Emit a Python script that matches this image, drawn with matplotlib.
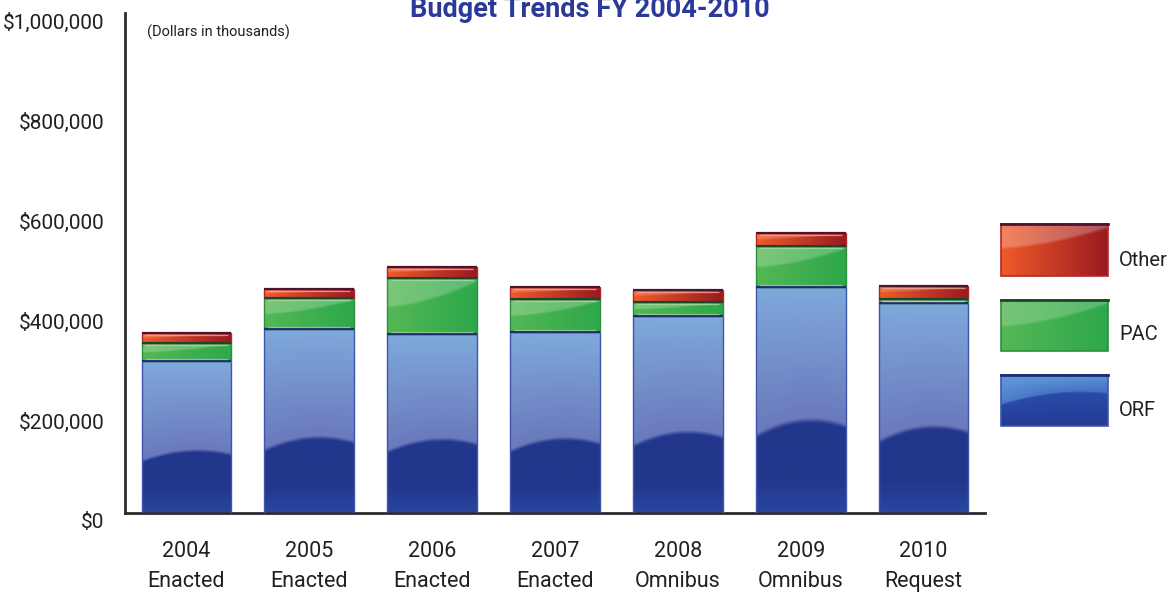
import numpy as np
import matplotlib
matplotlib.use("Agg")
import matplotlib.pyplot as plt
from matplotlib.patches import Rectangle
from matplotlib.colors import to_rgb

# ---------------- data (dollars in thousands) ----------------
years = ["2004", "2005", "2006", "2007", "2008", "2009", "2010"]
stages = ["Enacted", "Enacted", "Enacted", "Enacted", "Omnibus", "Omnibus", "Request"]
orf = [304000, 368000, 358000, 362000, 394000, 452000, 420000]
pac = [36000, 62000, 112000, 66000, 28000, 82000, 8000]
other = [20000, 18000, 22000, 24000, 24000, 26000, 26000]
series_names = ["Other", "PAC", "ORF"]
yticks = [0, 200000, 400000, 600000, 800000, 1000000]
ytick_labels = ["$0", "$200,000", "$400,000", "$600,000", "$800,000", "$1,000,000"]
title = "Budget Trends FY 2004-2010"
subtitle = "(Dollars in thousands)"

plt.rcParams["font.family"] = ["Roboto", "DejaVu Sans"]

W, H = 1170, 592
fig = plt.figure(figsize=(W / 100, H / 100), dpi=100)
fig.patch.set_facecolor("white")

ax = fig.add_axes([125 / W, 1 - 513 / H, (985 - 125) / W, 500 / H])
x = np.arange(len(years))
bw = 0.73


def lerp(c1, c2, t):
    c1 = np.array(to_rgb(c1)); c2 = np.array(to_rgb(c2))
    t = np.clip(t, 0, 1)[..., None]
    return c1 * (1 - t) + c2 * t


def smoothstep(e0, e1, v):
    t = np.clip((v - e0) / (e1 - e0), 0, 1)
    return t * t * (3 - 2 * t)


def img_orf(nx=120, ny=240, legend=False):
    u = np.linspace(0, 1, nx)[None, :].repeat(ny, 0)
    v = np.linspace(0, 1, ny)[:, None].repeat(nx, 1)
    if legend:
        b = 0.42 + 0.25 * (1 - ((u - 0.75) / 0.75) ** 2)
        upper = lerp("#3F6FC0", "#5E92D6", (v - b) / (1 - b) + 0.3 * (1 - u))
        lower = lerp("#2A4BA8", "#233B95", (b - v) / b)
    else:
        b = 0.34 + 0.07 * (1 - ((u - 0.62) / 0.62) ** 2)
        upper = lerp("#6A79BC", "#7FA9DB", (v - b) / (1 - b))
        lower = lerp("#2A46A0", "#22378C", v / 0.15)
    m = smoothstep(b - 0.015, b + 0.015, v)[..., None]
    return lower * (1 - m) + upper * m


def img_pac(nx=120, ny=120, k=0.22):
    u = np.linspace(0, 1, nx)[None, :].repeat(ny, 0)
    v = np.linspace(0, 1, ny)[:, None].repeat(nx, 1)
    base = lerp("#55B755", "#2DA84B", u)
    g = smoothstep(0.0, 0.08, v - (0.45 + 0.45 * u ** 1.6))
    return base * (1 - k * g[..., None]) + np.ones(3) * k * g[..., None]


def img_other(nx=120, ny=60, k=0.18):
    u = np.linspace(0, 1, nx)[None, :].repeat(ny, 0)
    v = np.linspace(0, 1, ny)[:, None].repeat(nx, 1)
    base = lerp("#F05B2A", "#9A1A20", u)
    g = smoothstep(0.0, 0.08, v - (0.5 + 0.4 * u ** 1.6))
    return base * (1 - k * g[..., None]) + np.ones(3) * k * g[..., None]


def gradient_bars(bottom, height, maker, edge, topedge):
    rects = ax.bar(x, height, bw, bottom=bottom, color="none", edgecolor="none", zorder=1)
    for r in rects:
        x0, y0 = r.get_x(), r.get_y()
        im = ax.imshow(maker(), extent=[x0, x0 + r.get_width(), y0, y0 + r.get_height()],
                       origin="lower", aspect="auto", interpolation="bilinear", zorder=2)
        im.set_clip_path(r)
    ax.bar(x, height, bw, bottom=bottom, fill=False, edgecolor=edge, linewidth=1.0, zorder=3)
    tops = np.array(bottom) + np.array(height)
    ax.hlines(tops, x - bw / 2, x + bw / 2, colors=topedge, linewidth=1.6, zorder=4)
    return rects


b0 = np.zeros(len(x))
gradient_bars(b0, orf, img_orf, "#3E55AE", "#1E2C70")
b1 = b0 + np.array(orf)
gradient_bars(b1, pac, img_pac, "#2E8E3E", "#1C4628")
ax.hlines(b1 + np.array(pac) - 3500, x - bw / 2 + 0.03, x + bw / 2 - 0.03,
          colors="#A8DCA0", linewidth=0.9, alpha=0.8, zorder=4)
ax.hlines(b1 + 3500, x - bw / 2 + 0.03, x + bw / 2 - 0.03,
          colors="#A8DCA0", linewidth=0.9, alpha=0.7, zorder=4)
b2 = b1 + np.array(pac)
gradient_bars(b2, other, img_other, "#B5262C", "#4A1530")
ax.hlines(b2 + np.array(other) - 4500, x - bw / 2 + 0.03, x + bw / 2 - 0.03,
          colors="#F2A890", linewidth=0.9, alpha=0.8, zorder=4)

ax.set_xlim(-0.5, 6.5)
ax.set_ylim(0, 1000000)

for s in ["top", "right"]:
    ax.spines[s].set_visible(False)
for s in ["left", "bottom"]:
    ax.spines[s].set_color("#2b2b2b")
    ax.spines[s].set_linewidth(2.0)

ax.set_yticks(yticks)
ax.set_yticklabels(ytick_labels)
ax.set_xticks(x)
ax.set_xticklabels([f"{y}\n{s}" for y, s in zip(years, stages)], linespacing=1.55)
ax.tick_params(axis="y", length=0, pad=15, labelsize=15, labelcolor="#231f20")
ax.tick_params(axis="x", length=0, pad=20, labelsize=15.5, labelcolor="#231f20")
for t in ax.get_yticklabels():
    t.set_verticalalignment("top")

fig.text(590 / W, 1 - 17 / H, title, ha="center", va="baseline", fontsize=19.5,
         fontweight="bold", color="#2B3A99")
fig.text(147 / W, 1 - 32 / H, subtitle, ha="left", va="center", fontsize=10.5, color="#231f20")

# ---------------- legend ----------------
leg = [("Other", img_other(120, 50, 0.25), "#4A1530", "#B5262C", 224, 276, 260),
       ("PAC", img_pac(120, 50, 0.2), "#1C4628", "#2E8E3E", 300, 351, 335),
       ("ORF", img_orf(120, 50, legend=True), "#1E2C70", "#3E55AE", 375, 426, 410)]
for name, arr, tcol, ecol, ytop, ybot, ylab in leg:
    lax = fig.add_axes([1001 / W, 1 - ybot / H, 107 / W, (ybot - ytop) / H])
    lax.imshow(arr, origin="lower", aspect="auto", extent=[0, 1, 0, 1], interpolation="bilinear")
    lax.set_xlim(0, 1); lax.set_ylim(0, 1)
    lax.axis("off")
    lax.add_patch(Rectangle((0, 0), 1, 1, fill=False, edgecolor=ecol, linewidth=1.2,
                            transform=lax.transAxes, clip_on=False))
    lax.plot([0, 1], [1, 1], color=tcol, linewidth=2, transform=lax.transAxes, clip_on=False)
    fig.text(1119 / W, 1 - ylab / H, name, ha="left", va="center", fontsize=14.5, color="#231f20")

fig.savefig("out.png", dpi=100, facecolor="white")
